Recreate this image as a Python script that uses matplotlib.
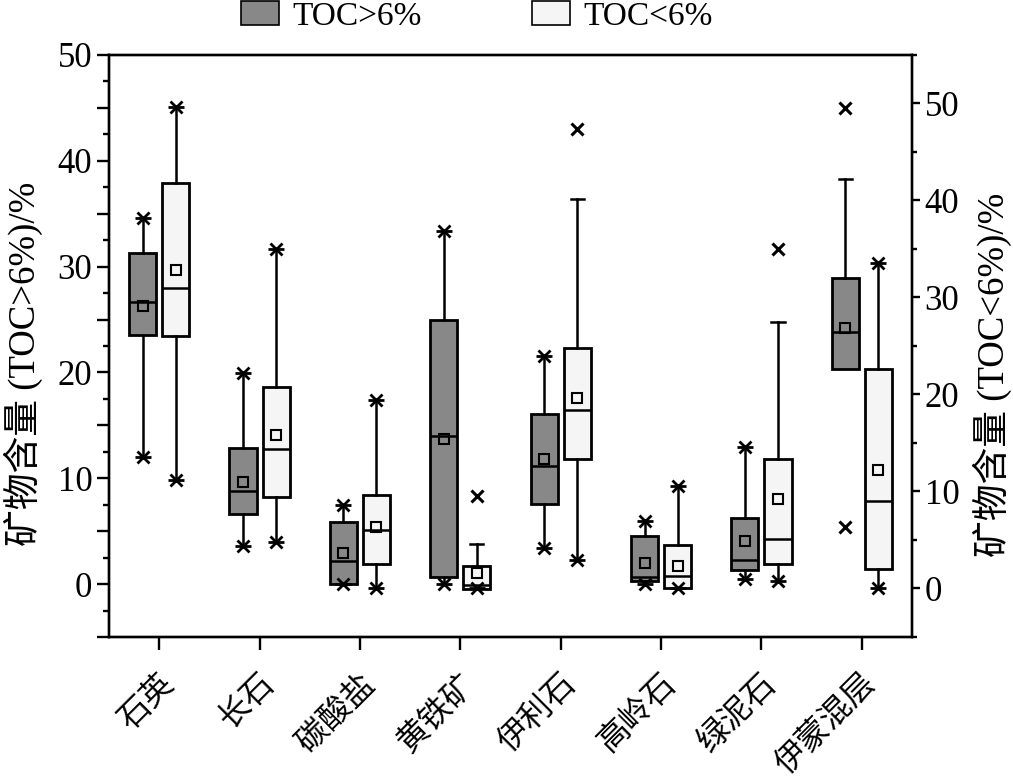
import matplotlib
matplotlib.use('Agg')
import matplotlib.pyplot as plt
from matplotlib.patches import Patch
from matplotlib.ticker import MultipleLocator, FixedLocator

plt.rcParams['font.family'] = ['Liberation Serif', 'Noto Sans CJK SC']
plt.rcParams['axes.linewidth'] = 1.7

categories = ['石英', '长石', '碳酸盐', '黄铁矿', '伊利石', '高岭石', '绿泥石', '伊蒙混层']

# TOC>6% (left axis)
hi_q1 = [23.5, 6.6, 0.0, 0.7, 7.6, 0.3, 1.3, 20.3]
hi_q3 = [31.25, 12.9, 5.85, 25.0, 16.1, 4.5, 6.25, 28.9]
hi_med = [26.7, 8.75, 2.2, 13.95, 11.15, 0.7, 2.3, 23.8]
hi_mean = [26.3, 9.6, 2.95, 13.7, 11.85, 1.95, 4.05, 24.2]
hi_lo = [12.05, 3.6, 0.05, 0.05, 3.45, 0.0, 0.5, 20.3]
hi_hi = [34.6, 19.95, 7.5, 33.4, 21.6, 5.95, 12.95, 38.3]
hi_top = ['star', 'star', 'star', 'star', 'star', 'star', 'star', 'cap']
hi_bot = ['star', 'star', 'star', 'star', 'star', 'star', 'star', 'none']
hi_out = [[], [], [], [], [], [], [], [45.0, 5.4]]

# TOC<6% (right axis)
lo_q1 = [26.0, 9.4, 2.5, -0.05, 13.3, 0.0, 2.55, 2.0]
lo_q3 = [41.8, 20.75, 9.65, 2.3, 24.8, 4.45, 13.4, 22.6]
lo_med = [31.0, 14.4, 6.05, 0.4, 18.4, 1.25, 5.15, 9.05]
lo_mean = [32.8, 15.8, 6.3, 1.6, 19.65, 2.3, 9.2, 12.2]
lo_lo = [11.2, 4.75, 0.05, 0.0, 2.95, 0.0, 0.75, 0.05]
lo_hi = [49.6, 35.0, 19.4, 4.6, 40.2, 10.6, 27.5, 33.6]
lo_top = ['star', 'star', 'star', 'cap', 'cap', 'star', 'cap', 'star']
lo_bot = ['star'] * 8
lo_out = [[], [], [], [9.5], [47.4], [], [35.0], []]

dark = '#888888'
light = '#f5f5f5'

fig = plt.figure(figsize=(10.13, 7.79), dpi=100)
ax = fig.add_axes([0.1076, 0.1823, 0.7927, 0.7471])
ax2 = ax.twinx()

x = list(range(1, len(categories) + 1))


def draw(a, pos, q1, q3, med, mean, lo, hi, top, bot, out, color):
    stats = []
    for i in range(len(pos)):
        stats.append(dict(med=med[i], q1=q1[i], q3=q3[i], whislo=lo[i], whishi=hi[i],
                          mean=mean[i], fliers=[]))
    a.bxp(stats, positions=pos, widths=0.27, patch_artist=True, showcaps=False,
          showfliers=False, showmeans=True,
          boxprops=dict(facecolor=color, edgecolor='black', linewidth=2.0),
          whiskerprops=dict(color='black', linewidth=1.8),
          medianprops=dict(color='black', linewidth=1.8),
          meanprops=dict(marker='s', markersize=7, markerfacecolor='none',
                         markeredgecolor='black', markeredgewidth=1.5))
    for i, p in enumerate(pos):
        for v, s in ((hi[i], top[i]), (lo[i], bot[i])):
            if s == 'star':
                a.plot(p, v, marker='x', ms=8, mew=2.0, color='black', zorder=5)
                a.plot(p, v, marker='_', ms=11, mew=2.0, color='black', zorder=5)
            elif s == 'cap':
                a.plot([p - 0.065, p + 0.065], [v, v], color='black', lw=1.8, zorder=5)
        for v in out[i]:
            a.plot(p, v, marker='x', ms=8, mew=2.2, color='black', zorder=5)


draw(ax, [p - 0.165 for p in x], hi_q1, hi_q3, hi_med, hi_mean, hi_lo, hi_hi,
     hi_top, hi_bot, hi_out, dark)
draw(ax2, [p + 0.165 for p in x], lo_q1, lo_q3, lo_med, lo_mean, lo_lo, lo_hi,
     lo_top, lo_bot, lo_out, light)

ax.set_xlim(0.5, 8.5)
ax.set_ylim(-5, 50)
ax2.set_ylim(-5, 55)

ax.xaxis.set_major_locator(FixedLocator(x))
ax.set_xticklabels(categories, rotation=45, ha='right', va='top',
                   rotation_mode='anchor', fontsize=23)
ax.tick_params(axis='x', direction='out', length=9, width=1.7, pad=14, top=False)

ax.yaxis.set_major_locator(MultipleLocator(5))
ax.yaxis.set_minor_locator(MultipleLocator(2.5))
ax.yaxis.set_major_formatter(lambda v, p: f'{v:.0f}' if v % 10 == 0 else '')
ax.tick_params(axis='y', which='major', direction='out', length=9, width=1.7,
               labelsize=25, right=False, pad=3)
ax.tick_params(axis='y', which='minor', direction='out', length=4.5, width=1.7, right=False)

ax2.set_yticks([0, 10, 20, 30, 40, 50])
ax2.yaxis.set_minor_locator(MultipleLocator(5))
ax2.tick_params(axis='y', which='major', direction='out', length=6, width=1.7,
                labelsize=25, pad=3)
ax2.tick_params(axis='y', which='minor', direction='out', length=3.5, width=1.7)

ax.set_ylabel('矿物含量 (TOC>6%)/%', fontsize=26.5)
ax2.set_ylabel('矿物含量 (TOC<6%)/%', fontsize=26.5, rotation=90)
ax.yaxis.set_label_coords(-0.082, 0.47)
ax2.yaxis.set_label_coords(1.076, 0.45)

handles = [Patch(facecolor=dark, edgecolor='black', linewidth=1.2, label='TOC>6%'),
           Patch(facecolor=light, edgecolor='black', linewidth=1.2, label='TOC<6%')]
fig.legend(handles=handles, ncol=2, loc='center', bbox_to_anchor=(0.471, 0.979),
           frameon=False, fontsize=24, handlelength=1.15, handleheight=0.7,
           columnspacing=3.3, handletextpad=0.4)

fig.savefig('out.png', dpi=100)
